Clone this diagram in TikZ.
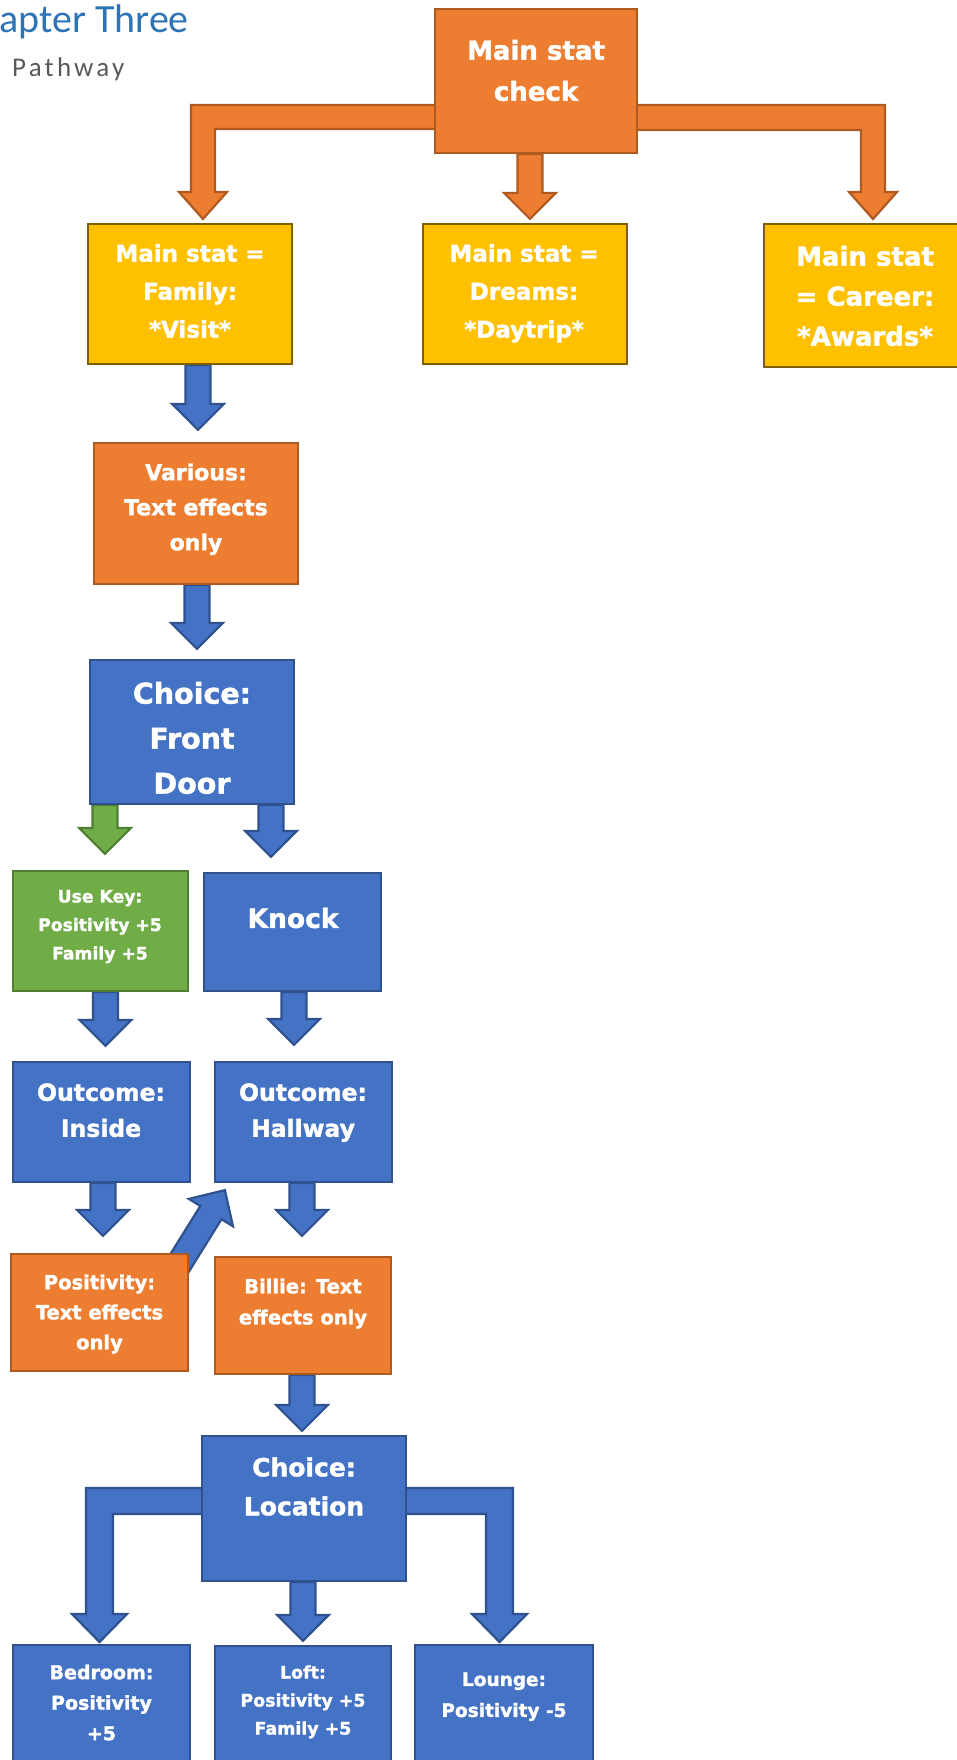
\documentclass[tikz,border=0pt]{standalone}
\usepackage{fontspec}
\setmainfont{DejaVu Sans}[BoldFeatures={FakeBold=1.6}]
\newfontfamily\headfont{Carlito}
\newfontfamily\subheadfont[LetterSpace=12]{Carlito}
\usetikzlibrary{calc,fit,backgrounds}

\definecolor{orFill}{HTML}{ED7D31}
\definecolor{orLine}{HTML}{AE5A21}
\definecolor{yeFill}{HTML}{FFC000}
\definecolor{yeLine}{HTML}{7F6000}
\definecolor{blFill}{HTML}{4472C4}
\definecolor{blLine}{HTML}{2F528F}
\definecolor{grFill}{HTML}{70AD47}
\definecolor{grLine}{HTML}{507E32}
\definecolor{headBlue}{HTML}{2E74B5}
\definecolor{subGray}{HTML}{595959}

\tikzset{
  box/.style={inner sep=0pt, line width=2.2pt},
  orangebox/.style={box, draw=orLine, fill=orFill},
  yellowbox/.style={box, draw=yeLine, fill=yeFill},
  bluebox/.style={box, draw=blLine, fill=blFill},
  greenbox/.style={box, draw=grLine, fill=grFill},
  blockarrow/.style={line width=2.2pt, line join=miter},
  orarrow/.style={blockarrow, draw=orLine, fill=orFill},
  blarrow/.style={blockarrow, draw=blLine, fill=blFill},
  grarrow/.style={blockarrow, draw=grLine, fill=grFill},
  lbl/.style={anchor=north, inner sep=0pt, align=center, text=white},
}

% box from its two corners (px units, y downwards)
\newcommand\bx[6]{\node[#2, fit={(#3,#4) (#5,#6)}] (#1) {};}
% white label: name, x, centre of first line, size, line spacing, text
\newcommand\lbl[6]{\node[lbl, font={\fontsize{#4}{#5}\selectfont\bfseries}] (#1) at (#2,#3-0.535*#4) {\rule{0pt}{0.9em}#6};}
% straight block arrow downwards: style, x, source, target, gap above target
\newcommand\vdown[5]{%
  \draw[#1] let \p1=(#2,0 |- #3.south), \p2=(#2,0 |- #4.north) in
    (\x1-12.5pt,\y1) -- (\x1-12.5pt,\y2+#5pt+26pt) -- (\x1-26pt,\y2+#5pt+26pt)
    -- (\x1,\y2+#5pt) -- (\x1+26pt,\y2+#5pt+26pt) -- (\x1+12.5pt,\y2+#5pt+26pt)
    -- (\x1+12.5pt,\y1) -- cycle;}

\begin{document}
\begin{tikzpicture}[x=1pt, y=-1pt]
\useasboundingbox (0,0) rectangle (957,1760);

% heading
\node[anchor=base west, inner sep=0pt, text=headBlue, font=\headfont\fontsize{40}{42}\selectfont] (title) at (-1,33) {apter Three};
\node[anchor=base west, inner sep=0pt, text=subGray, font=\subheadfont\fontsize{27}{29}\selectfont] (subtitle) at (12,77) {Pathway};

% boxes
\bx{top}{orangebox}{435}{9}{637}{153}
\bx{fam}{yellowbox}{88}{224}{292}{364}
\bx{dreams}{yellowbox}{423}{224}{627}{364}
\bx{career}{yellowbox}{764}{224}{972}{367}
\bx{various}{orangebox}{94}{443}{298}{584}
\bx{choice}{bluebox}{90}{660}{294}{804}
\bx{usekey}{greenbox}{13}{871}{188}{991}
\bx{knock}{bluebox}{204}{873}{381}{991}
\bx{inside}{bluebox}{13}{1062}{190}{1182}
\bx{hall}{bluebox}{215}{1062}{392}{1182}
\bx{posi}{orangebox}{11}{1254}{188}{1371}
\bx{billie}{orangebox}{215}{1257}{391}{1374}
\bx{loc}{bluebox}{202}{1436}{406}{1581}
\bx{bed}{bluebox}{13}{1645}{190}{1790}
\bx{loft}{bluebox}{215}{1646}{391}{1790}
\bx{lounge}{bluebox}{415}{1645}{593}{1790}

% texts
\lbl{topT}{536}{50}{26}{41}{Main stat\\check}
\lbl{famT}{190}{253}{23}{38}{Main stat =\\Family:\\*Visit*}
\lbl{dreamsT}{524}{253}{23}{38}{Main stat =\\Dreams:\\*Daytrip*}
\lbl{careerT}{865}{256}{26}{40}{Main stat\\= Career:\\*Awards*}
\lbl{variousT}{196}{472}{22}{35}{Various:\\Text effects\\only}
\lbl{choiceT}{192}{693}{28.5}{45}{Choice:\\Front\\Door}
\lbl{usekeyT}{100}{896}{17.2}{28.5}{Use Key:\\Positivity +5\\Family +5}
\lbl{knockT}{293}{918}{26.5}{40}{Knock}
\lbl{insideT}{101}{1092}{23.5}{36}{Outcome:\\Inside}
\lbl{hallT}{303}{1092}{23.5}{36}{Outcome:\\Hallway}
\lbl{posiT}{99.5}{1282}{19.5}{30}{Positivity:\\Text effects\\only}
\lbl{billieT}{303}{1286}{19.5}{31}{Billie: Text\\effects only}
\lbl{locT}{304}{1467}{25}{39}{Choice:\\Location}
\lbl{bedT}{101.5}{1672}{19}{30.5}{Bedroom:\\Positivity\\+5}
\lbl{loftT}{303}{1672}{17.4}{28}{Loft:\\Positivity +5\\Family +5}
\lbl{loungeT}{504}{1679}{18.5}{31}{Lounge:\\Positivity -5}

% block arrows, behind the boxes
\begin{scope}[on background layer]
  % from the stat check
  \draw[orarrow] ([xshift=10pt]top.west |- 0,105) -- (191,105) -- (191,192) -- (179,192)
    -- (203,219) -- (227,192) -- (215,192) -- (215,129) -- ([xshift=10pt]top.west |- 0,129) -- cycle;
  \vdown{orarrow}{530}{top}{dreams}{4}
  \draw[orarrow] ([xshift=-10pt]top.east |- 0,105) -- (885,105) -- (885,192) -- (897,192)
    -- (873,219) -- (849,192) -- (861,192) -- (861,130) -- ([xshift=-10pt]top.east |- 0,130) -- cycle;

  % family pathway
  \vdown{blarrow}{198}{fam}{various}{12}
  \vdown{blarrow}{197}{various}{choice}{10}
  \vdown{grarrow}{105}{choice}{usekey}{16}
  \vdown{blarrow}{271}{choice}{knock}{15}
  \vdown{blarrow}{105.5}{usekey}{inside}{15}
  \vdown{blarrow}{294}{knock}{hall}{16}
  \vdown{blarrow}{103}{inside}{posi}{17}
  \vdown{blarrow}{302}{hall}{billie}{20}
  \vdown{blarrow}{302}{billie}{loc}{4}

  % positivity back up to the hallway
  \coordinate (dtip) at ($(hall.south west)+(11,7)$);
  \draw[blarrow] ($(dtip)+(-24.6,15.9)$) -- ($(dtip)+(-36.1,8.8)$) -- (dtip)
    -- ($(dtip)+(8.1,36.2)$) -- ($(dtip)+(-3.4,29.1)$) -- ($(dtip)+(-47.5,100)$)
    -- ($(dtip)+(-68.7,86.8)$) -- cycle;

  % location choice
  \draw[blarrow] ([xshift=10pt]loc.west |- 0,1488) -- (86,1488) -- (86,1614) -- (72,1614)
    -- (99.5,1642) -- (127,1614) -- (113,1614) -- (113,1514) -- ([xshift=10pt]loc.west |- 0,1514) -- cycle;
  \vdown{blarrow}{303}{loc}{loft}{4}
  \draw[blarrow] ([xshift=-10pt]loc.east |- 0,1488) -- (513,1488) -- (513,1614) -- (527,1614)
    -- (499.5,1642) -- (472,1614) -- (486,1614) -- (486,1514) -- ([xshift=-10pt]loc.east |- 0,1514) -- cycle;
\end{scope}
\end{tikzpicture}
\end{document}
